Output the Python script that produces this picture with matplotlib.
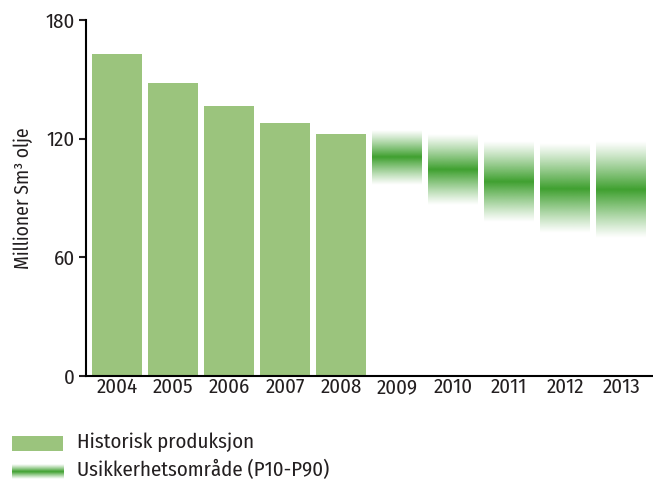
import matplotlib
matplotlib.use("Agg")
import matplotlib.pyplot as plt
import numpy as np

plt.rcParams['font.family'] = ['Fira Sans Condensed', 'DejaVu Sans']
plt.rcParams['font.weight'] = 'normal'
plt.rcParams['text.color'] = '#231f20'
plt.rcParams['axes.labelcolor'] = '#231f20'
plt.rcParams['xtick.color'] = '#231f20'
plt.rcParams['ytick.color'] = '#231f20'

years = ['2004', '2005', '2006', '2007', '2008', '2009', '2010', '2011', '2012', '2013']
hist_years = ['2004', '2005', '2006', '2007', '2008']
hist_values = [162.8, 148.0, 136.5, 128.0, 122.3]
fc_years = ['2009', '2010', '2011', '2012', '2013']
fc_p10 = [124.4, 121.8, 118.5, 117.6, 118.5]
fc_mid = [110.8, 104.1, 98.2, 94.5, 94.0]
fc_p90 = [96.6, 86.4, 78.0, 72.1, 69.6]
yticks = [0, 60, 120, 180]
ylabel = 'Millioner Sm³ olje'
legend_labels = ['Historisk produksjon', 'Usikkerhetsområde (P10-P90)']

bar_color = '#9bc47d'
band_green = np.array([0x3f, 0xa0, 0x2f]) / 255.0

fig = plt.figure(figsize=(6.53, 4.8), dpi=100)
ax = fig.add_axes([86/653, 104/480, (653-86)/653, 356/480])

xpos = {y: i for i, y in enumerate(years)}
w = 0.89
ax.bar([xpos[y] for y in hist_years], hist_values, width=w, color=bar_color, zorder=2)

def band_image(bot, mid, top, n=300):
    yy = np.linspace(bot, top, n)
    a = np.where(yy >= mid, 1 - (yy - mid) / (top - mid), 1 - (mid - yy) / (mid - bot))
    a = np.clip(a, 0, 1) ** 1.1
    img = np.zeros((n, 2, 4))
    img[..., :3] = band_green
    img[..., 3] = a[:, None]
    return img

for y, top, mid, bot in zip(fc_years, fc_p10, fc_mid, fc_p90):
    x = xpos[y]
    ax.imshow(band_image(bot, mid, top), extent=[x - w/2, x + w/2, bot, top],
              origin='lower', aspect='auto', interpolation='bilinear', zorder=2)

ax.set_xlim(-0.56, 9.57)
ax.set_ylim(0, 180)
ax.set_xticks(range(len(years)))
ax.set_xticklabels(years)
ax.set_yticks(yticks)
ax.tick_params(axis='x', length=0, labelsize=15, pad=1)
ax.tick_params(axis='y', length=5, width=1.5, labelsize=15, direction='out', pad=3)
for s in ['top', 'right']:
    ax.spines[s].set_visible(False)
ax.spines['left'].set_linewidth(1.5)
ax.spines['bottom'].set_linewidth(1.5)
ax.set_ylabel(ylabel, fontsize=14, labelpad=9)

# legend
lax1 = fig.add_axes([12/653, 1 - 451/480, 51/653, 15/480])
lax1.add_patch(plt.Rectangle((0, 0), 1, 1, color=bar_color))
lax1.set_xlim(0, 1); lax1.set_ylim(0, 1)
lax1.set_axis_off()
lax2 = fig.add_axes([12/653, 1 - 479/480, 51/653, 15/480])
lax2.imshow(band_image(0, 0.5, 1, 100), extent=[0, 1, 0, 1], origin='lower',
            aspect='auto', interpolation='bilinear')
lax2.set_xlim(0, 1); lax2.set_ylim(0, 1)
lax2.set_axis_off()
fig.text(77/653, 1 - 442/480, legend_labels[0], fontsize=15, va='center')
fig.text(77/653, 1 - 470/480, legend_labels[1], fontsize=15, va='center')

fig.savefig('out.png', dpi=100)
